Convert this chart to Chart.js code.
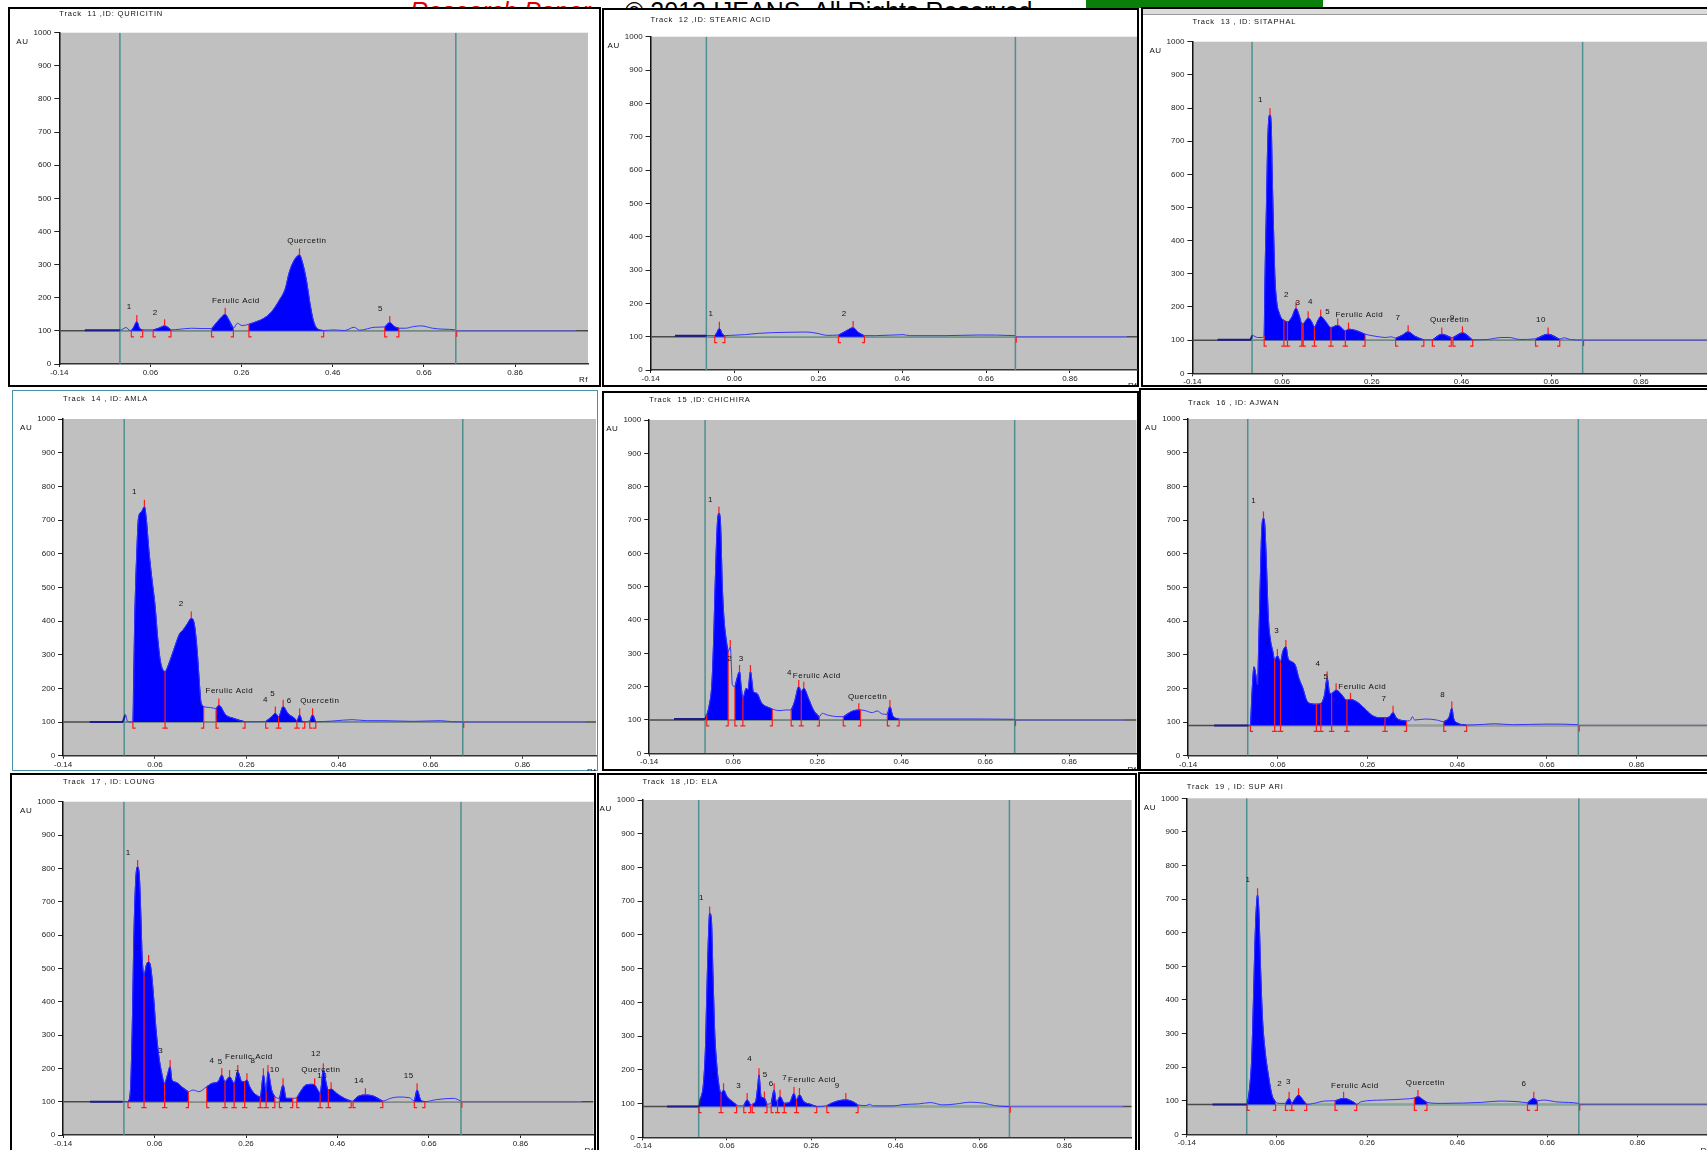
<!DOCTYPE html>
<html>
<head>
<meta charset="utf-8">
<script src="https://cdn.jsdelivr.net/npm/chart.js@4.4.1/dist/chart.umd.min.js"></script>
<style>
  html, body { margin: 0; padding: 0; background: #fff; }
  body { position: relative; width: 1707px; height: 1150px; overflow: hidden; font-family: "Liberation Sans", Arial, sans-serif; }
  .box { position: absolute; border: 2px solid #000; background: #fff; box-sizing: border-box; }
  .title { position: absolute; font-size: 7.5px; line-height: 8px; letter-spacing: 0.8px; color: #111; white-space: pre; }
  canvas { position: absolute; }
  #copy { position: absolute; left: 625px; top: -1.5px; font-size: 25px; line-height: 24px; color: #000; white-space: pre; }
  #red { position: absolute; left: 410px; top: -1.5px; font-size: 25px; line-height: 24px; color: #e00000; font-style: italic; white-space: pre; }
  #green { position: absolute; left: 1086px; top: 0; width: 237px; height: 8px; background: #0a800a; }
  #strip { position: absolute; left: 1143px; top: 9px; width: 570px; height: 5px; background: #dcdcdc; border-bottom: 1px solid #999; }
</style>
</head>
<body>
<div id="red">Research Paper</div>
<div id="copy">© 2013 IJEANS. All Rights Reserved</div>
<div id="green"></div>
<script>
// ---- axis ticks ----
const xTicks      = [-0.14, 0.06, 0.26, 0.46, 0.66, 0.86];
const xTickLabels = ['-0.14', '0.06', '0.26', '0.46', '0.66', '0.86'];
const yTicks      = [0, 100, 200, 300, 400, 500, 600, 700, 800, 900, 1000];
const sideLimits  = [-0.007, 0.730];   // application start / front lines (Rf)

// ---- tracks: [Rf, AU] scan points, integrated peak ranges, peak tops, labels ----
const titles = [
  'Track  11 ,ID: QURICITIN', 'Track  12 ,ID: STEARIC ACID', 'Track  13 , ID: SITAPHAL',
  'Track  14 , ID: AMLA', 'Track  15 ,ID: CHICHIRA', 'Track  16 , ID: AJWAN',
  'Track  17 , ID: LOUNG', 'Track  18 ,ID: ELA', 'Track  19 , ID: SUP ARI'
];
const baseAu = [100, 100, 100, 100, 100, 90, 100, 91, 89];

const trace11 = [[-0.084,102],[-0.007,102],[0.007,110],[0.015,101],[0.018,101],[0.024,113],[0.030,128],[0.036,108],[0.043,103],[0.057,103],[0.066,103],[0.078,108],[0.091,115],[0.099,110],[0.105,103],[0.125,105],[0.150,108],[0.175,107],[0.194,107],[0.204,123],[0.217,143],[0.224,150],[0.232,133],[0.242,108],[0.251,123],[0.261,116],[0.276,120],[0.293,128],[0.309,138],[0.326,158],[0.343,193],[0.356,228],[0.364,274],[0.372,304],[0.381,324],[0.387,329],[0.393,309],[0.402,254],[0.410,183],[0.417,133],[0.425,108],[0.440,101],[0.461,103],[0.486,101],[0.507,111],[0.519,102],[0.553,111],[0.574,112],[0.585,125],[0.595,113],[0.605,108],[0.620,108],[0.637,113],[0.654,115],[0.679,108],[0.704,105],[0.729,103],[0.732,100],[0.994,100]];
const peaks11 = [[0.018,0.043],[0.066,0.105],[0.194,0.242],[0.276,0.440],[0.574,0.605]];
const tops11  = [0.030,0.091,0.224,0.387,0.585];
const tags11  = ['1','2','Ferulic Acid','Quercetin','5'];
const tagPos11 = [[0.008,160],[0.065,143],[0.195,178],[0.360,359],[0.559,155]];

const trace12 = [[-0.082,103],[-0.006,103],[0.013,103],[0.018,112],[0.024,125],[0.031,108],[0.037,103],[0.051,104],[0.084,106],[0.117,110],[0.150,112],[0.183,113],[0.232,114],[0.257,110],[0.281,104],[0.308,105],[0.326,117],[0.343,127],[0.355,113],[0.370,103],[0.396,103],[0.462,106],[0.478,103],[0.560,103],[0.642,105],[0.729,103],[0.732,100],[0.996,100]];
const peaks12 = [[0.013,0.037],[0.308,0.370]];
const tops12  = [0.024,0.343];
const tags12  = ['1','2'];
const tagPos12 = [[-0.002,158],[0.316,158]];

const trace13 = [[-0.084,101],[-0.011,101],[-0.006,114],[0.005,108],[0.016,108],[0.020,112],[0.022,300],[0.025,500],[0.028,700],[0.031,775],[0.033,779],[0.036,740],[0.038,600],[0.041,430],[0.044,290],[0.048,215],[0.054,180],[0.059,165],[0.064,160],[0.072,155],[0.082,170],[0.091,196],[0.098,175],[0.104,150],[0.107,150],[0.118,167],[0.126,155],[0.132,140],[0.140,160],[0.146,172],[0.156,158],[0.169,138],[0.184,145],[0.201,128],[0.208,133],[0.227,128],[0.245,118],[0.267,112],[0.291,108],[0.304,110],[0.313,106],[0.328,115],[0.341,125],[0.356,112],[0.376,101],[0.395,101],[0.416,118],[0.437,108],[0.441,108],[0.462,122],[0.485,101],[0.517,102],[0.550,108],[0.566,108],[0.590,102],[0.625,104],[0.653,118],[0.679,103],[0.688,107],[0.703,102],[0.729,100],[1.02,100]];
const peaks13 = [[0.020,0.064],[0.064,0.072],[0.072,0.104],[0.104,0.107],[0.107,0.132],[0.132,0.169],[0.169,0.201],[0.201,0.245],[0.313,0.376],[0.395,0.437],[0.441,0.485],[0.625,0.679]];
const tops13  = [0.033,0.091,0.118,0.146,0.184,0.208,0.341,0.416,0.462,0.653];
const tags13  = ['1','2','3','4','5','Ferulic Acid','7','Quercetin','9','10'];
const tagPos13 = [[0.006,812],[0.064,224],[0.090,200],[0.118,203],[0.156,174],[0.179,163],[0.313,156],[0.390,149],[0.434,156],[0.626,149]];

const trace14 = [[-0.082,100],[-0.011,100],[-0.004,121],[0.000,103],[0.008,100],[0.012,100],[0.016,408],[0.021,626],[0.024,705],[0.031,725],[0.037,740],[0.041,705],[0.047,606],[0.054,517],[0.060,448],[0.066,349],[0.072,279],[0.082,250],[0.089,269],[0.102,319],[0.114,363],[0.121,373],[0.131,393],[0.139,408],[0.146,388],[0.152,309],[0.156,230],[0.160,160],[0.166,146],[0.181,143],[0.193,140],[0.199,150],[0.214,121],[0.231,111],[0.256,101],[0.281,101],[0.301,102],[0.314,116],[0.322,126],[0.329,116],[0.339,146],[0.349,126],[0.364,111],[0.369,104],[0.375,121],[0.381,101],[0.386,101],[0.397,103],[0.403,121],[0.410,101],[0.447,103],[0.489,107],[0.522,104],[0.556,104],[0.622,102],[0.681,104],[0.706,101],[0.730,100],[0.997,100]];
const peaks14 = [[0.012,0.082],[0.082,0.166],[0.193,0.256],[0.301,0.329],[0.329,0.369],[0.369,0.386],[0.397,0.410]];
const tops14  = [0.037,0.139,0.199,0.322,0.339,0.375,0.403];
const tags14  = ['1','2','Ferulic Acid','4','5','6','Quercetin'];
const tagPos14 = [[0.010,771],[0.112,438],[0.170,182],[0.295,155],[0.311,173],[0.347,152],[0.376,152]];

const trace15 = [[-0.081,103],[-0.007,103],[-0.003,115],[0.003,145],[0.009,205],[0.013,325],[0.017,505],[0.022,685],[0.026,720],[0.030,685],[0.034,505],[0.038,405],[0.044,335],[0.048,305],[0.053,320],[0.058,205],[0.064,200],[0.069,225],[0.075,245],[0.079,200],[0.083,165],[0.091,195],[0.095,190],[0.101,245],[0.108,185],[0.116,180],[0.128,150],[0.145,137],[0.153,133],[0.169,128],[0.186,130],[0.198,130],[0.206,155],[0.216,200],[0.222,185],[0.228,195],[0.239,165],[0.251,130],[0.265,110],[0.272,120],[0.284,115],[0.309,110],[0.322,110],[0.341,125],[0.359,130],[0.363,130],[0.374,128],[0.391,122],[0.403,127],[0.415,118],[0.427,117],[0.433,140],[0.440,112],[0.455,103],[0.522,103],[0.604,103],[0.727,102],[0.732,100],[0.993,100]];
const peaks15 = [[-0.003,0.048],[0.064,0.083],[0.083,0.153],[0.198,0.222],[0.222,0.265],[0.322,0.363],[0.427,0.455]];
const tops15  = [0.026,0.053,0.075,0.101,0.216,0.228,0.359,0.433];
const tags15  = ['1','2','3','4','Ferulic Acid','Quercetin'];
const tagPos15 = [[0.000,750],[0.046,273],[0.073,273],[0.188,229],[0.202,220],[0.333,158]];

const trace16 = [[-0.082,90],[-0.005,90],[-0.001,90],[0.003,200],[0.007,264],[0.011,240],[0.015,210],[0.017,309],[0.020,467],[0.024,665],[0.028,705],[0.031,685],[0.035,556],[0.039,408],[0.043,349],[0.049,309],[0.053,284],[0.059,297],[0.066,279],[0.071,309],[0.078,324],[0.083,289],[0.091,279],[0.099,269],[0.107,230],[0.116,200],[0.124,165],[0.132,155],[0.146,153],[0.156,155],[0.164,180],[0.170,230],[0.176,185],[0.180,185],[0.190,195],[0.200,185],[0.214,165],[0.222,167],[0.236,160],[0.253,141],[0.269,121],[0.285,113],[0.299,113],[0.309,116],[0.317,128],[0.325,111],[0.347,103],[0.356,106],[0.360,116],[0.365,106],[0.390,109],[0.414,106],[0.430,101],[0.442,115],[0.448,141],[0.452,111],[0.462,96],[0.481,91],[0.519,93],[0.543,95],[0.583,92],[0.664,94],[0.729,92],[0.732,90],[1.02,90]];
const peaks16 = [[-0.001,0.053],[0.053,0.066],[0.066,0.146],[0.146,0.156],[0.156,0.180],[0.180,0.214],[0.214,0.299],[0.299,0.347],[0.430,0.481]];
const tops16  = [0.028,0.059,0.078,0.170,0.190,0.222,0.317,0.448];
const tags16  = ['1','2','3','4','5','Ferulic Acid','7','8'];
const tagPos16 = [[0.001,745],[0.033,327],[0.052,358],[0.144,262],[0.162,222],[0.195,194],[0.291,157],[0.422,170]];

const trace17 = [[-0.081,100],[-0.010,100],[0.002,100],[0.007,130],[0.011,310],[0.015,610],[0.019,770],[0.023,805],[0.027,770],[0.030,660],[0.033,530],[0.037,480],[0.042,510],[0.047,520],[0.052,500],[0.057,430],[0.063,320],[0.069,240],[0.075,190],[0.082,155],[0.088,180],[0.094,205],[0.098,165],[0.107,158],[0.119,145],[0.134,130],[0.144,135],[0.157,130],[0.174,145],[0.186,155],[0.199,160],[0.207,180],[0.214,160],[0.224,175],[0.234,155],[0.242,190],[0.251,160],[0.257,160],[0.262,165],[0.268,145],[0.278,125],[0.291,115],[0.298,180],[0.304,130],[0.308,190],[0.316,135],[0.323,115],[0.333,110],[0.341,150],[0.348,110],[0.362,110],[0.371,112],[0.379,130],[0.391,150],[0.404,152],[0.410,150],[0.417,135],[0.422,125],[0.429,195],[0.433,170],[0.440,135],[0.446,138],[0.458,125],[0.475,110],[0.490,102],[0.494,102],[0.504,115],[0.521,120],[0.538,117],[0.559,102],[0.576,110],[0.592,114],[0.617,112],[0.628,102],[0.634,135],[0.642,105],[0.651,100],[0.676,106],[0.714,110],[0.729,102],[0.732,100],[0.994,100]];
const peaks17 = [[0.002,0.037],[0.037,0.082],[0.082,0.134],[0.174,0.214],[0.214,0.234],[0.234,0.257],[0.257,0.291],[0.291,0.304],[0.304,0.323],[0.333,0.362],[0.371,0.422],[0.422,0.440],[0.440,0.490],[0.494,0.559],[0.628,0.651]];
const tops17  = [0.023,0.047,0.094,0.207,0.224,0.242,0.262,0.298,0.308,0.341,0.410,0.429,0.446,0.521,0.634];
const tags17  = ['1','2','3','4','5','Ferulic Acid','8','7','10','12','Quercetin','13','14','15'];
const tagPos17 = [[-0.003,835],[0.019,550],[0.068,240],[0.180,212],[0.198,208],[0.214,223],[0.270,212],[0.235,175],[0.312,183],[0.402,233],[0.381,185],[0.416,167],[0.496,150],[0.605,167]];

const trace18 = [[-0.082,91],[-0.010,91],[-0.006,91],[-0.002,116],[0.004,155],[0.009,264],[0.012,412],[0.016,590],[0.019,664],[0.023,649],[0.027,481],[0.031,313],[0.036,214],[0.041,155],[0.046,130],[0.052,140],[0.060,121],[0.073,106],[0.083,96],[0.092,93],[0.100,95],[0.108,111],[0.116,96],[0.120,98],[0.128,106],[0.133,150],[0.136,185],[0.141,121],[0.149,116],[0.155,98],[0.165,102],[0.172,140],[0.177,106],[0.180,108],[0.186,121],[0.196,101],[0.209,104],[0.219,130],[0.225,111],[0.232,126],[0.242,106],[0.258,98],[0.273,91],[0.297,94],[0.308,101],[0.324,108],[0.342,111],[0.361,104],[0.371,96],[0.390,94],[0.398,98],[0.407,93],[0.456,93],[0.477,97],[0.514,99],[0.543,103],[0.572,96],[0.604,99],[0.637,104],[0.670,101],[0.695,94],[0.730,91],[1.000,91]];
const peaks18 = [[-0.006,0.046],[0.046,0.083],[0.100,0.116],[0.120,0.155],[0.165,0.180],[0.180,0.196],[0.196,0.225],[0.225,0.273],[0.297,0.371]];
const tops18  = [0.019,0.052,0.108,0.136,0.149,0.172,0.186,0.219,0.232,0.342];
const tags18  = ['1','2','3','4','5','6','7','Ferulic Acid','9'];
const tagPos18 = [[-0.006,699],[0.024,170],[0.082,140],[0.108,221],[0.145,172],[0.159,148],[0.191,165],[0.205,160],[0.316,142]];

const trace19 = [[-0.083,89],[-0.012,89],[-0.006,89],[0.000,147],[0.004,226],[0.008,405],[0.012,603],[0.017,712],[0.020,663],[0.024,484],[0.028,345],[0.034,246],[0.041,177],[0.049,117],[0.057,97],[0.067,92],[0.079,92],[0.087,107],[0.093,93],[0.101,107],[0.108,117],[0.118,102],[0.126,89],[0.142,92],[0.166,99],[0.189,100],[0.208,107],[0.231,95],[0.237,89],[0.247,97],[0.296,102],[0.344,105],[0.365,108],[0.373,112],[0.385,102],[0.393,95],[0.425,92],[0.474,93],[0.514,95],[0.555,99],[0.595,97],[0.616,94],[0.630,107],[0.638,100],[0.652,102],[0.684,96],[0.730,92],[0.733,90],[1.02,90]];
const peaks19 = [[-0.006,0.057],[0.079,0.093],[0.093,0.126],[0.189,0.237],[0.365,0.393],[0.616,0.638]];
const tops19  = [0.017,0.087,0.108,0.208,0.373,0.630];
const tags19  = ['1','2','3','Ferulic Acid','Quercetin','6'];
const tagPos19 = [[-0.010,747],[0.061,137],[0.080,145],[0.180,132],[0.346,142],[0.603,137]];

const traces  = [trace11, trace12, trace13, trace14, trace15, trace16, trace17, trace18, trace19];
const peakSet = [peaks11, peaks12, peaks13, peaks14, peaks15, peaks16, peaks17, peaks18, peaks19];
const topSet  = [tops11, tops12, tops13, tops14, tops15, tops16, tops17, tops18, tops19];
const tagSet  = [tags11, tags12, tags13, tags14, tags15, tags16, tags17, tags18, tags19];
const tagPosSet = [tagPos11, tagPos12, tagPos13, tagPos14, tagPos15, tagPos16, tagPos17, tagPos18, tagPos19];

// ---- page layout: panel box [x,y,w,h] and plot rect [L,T,R,B] in page px ----
const LAYOUT = [
  { box: [8, 7, 593, 380],     plot: [59.3, 32.7, 588, 364] },
  { box: [602, 8, 537, 379],   plot: [650.6, 36.7, 1137, 370] },
  { box: [1141, 7, 580, 380],  plot: [1192.4, 41.7, 1712.7, 373.3] },
  { box: [12, 390, 586, 381],  plot: [63.1, 419, 596, 755.7], border: '1.5px solid #4b93a8' },
  { box: [602, 391, 537, 380], plot: [649.2, 420, 1136.5, 753.3] },
  { box: [1139, 388, 580, 383], plot: [1188.1, 419, 1708.4, 755.7] },
  { box: [10, 773, 586, 400],  plot: [63.1, 801.7, 593.6, 1135] },
  { box: [597, 773, 540, 400], plot: [642.6, 800, 1131.7, 1137.3] },
  { box: [1138, 772, 580, 400], plot: [1186.8, 798.3, 1709.5, 1134.3] }
];
const Y_AXIS_W = 30, X_AXIS_H = 12;
const FONT = '"Liberation Sans", Arial, sans-serif';
const tickFont = { family: FONT, size: 8 };

const auAt = (trace, rf) => trace.reduce((b, p) => Math.abs(p[0] - rf) < Math.abs(b[0] - rf) ? p : b)[1];

// ---- plugins ----
const plotBg = {
  id: 'plotBg',
  beforeDraw(chart) {
    const { ctx, chartArea: a } = chart;
    ctx.save();
    ctx.fillStyle = '#c0c0c0';
    ctx.fillRect(a.left, a.top, a.right - a.left, a.bottom - a.top);
    ctx.restore();
  }
};
const peakTags = {
  id: 'peakTags',
  afterDatasetsDraw(chart, args, opts) {
    const { ctx, chartArea: a, scales: { x, y } } = chart;
    ctx.save();
    ctx.font = `8px ${FONT}`;
    ctx.letterSpacing = '0.5px';
    ctx.fillStyle = '#111';
    ctx.textAlign = 'left';
    ctx.textBaseline = 'bottom';
    opts.tags.forEach((t, i) => {
      ctx.fillText(t, x.getPixelForValue(opts.pos[i][0]), y.getPixelForValue(opts.pos[i][1]));
    });
    ctx.textBaseline = 'top';
    ctx.fillText('AU', a.left - 43, a.top + 5);
    ctx.textAlign = 'right';
    ctx.fillText('Rf', a.right, a.bottom + 12);
    ctx.restore();
  }
};

function buildDatasets(trace, peaks, tops, base) {
  const pts = trace.map(([x, y]) => ({ x, y }));
  const gap = { x: 0, y: null };
  const sets = [];

  // baseline across the plate + integration baseline between the limits
  sets.push({ data: [{ x: -0.14, y: base }, { x: 1.02, y: base }], borderColor: '#4a4a4a', borderWidth: 1.5, order: 9 });
  sets.push({ data: [{ x: sideLimits[0], y: base }, { x: sideLimits[1], y: base }], borderColor: '#8fb3a3', borderWidth: 1, order: 8 });
  sideLimits.forEach(v => sets.push({ data: [{ x: v, y: 0 }, { x: v, y: 1000 }], borderColor: '#4f8f8f', borderWidth: 1.5, order: 7 }));

  // merge touching peak ranges into filled runs
  const runs = [];
  peaks.forEach(([a, b]) => {
    const last = runs[runs.length - 1];
    if (last && Math.abs(last[1] - a) < 1e-6) last[1] = b; else runs.push([a, b]);
  });
  runs.forEach(([a, b]) => sets.push({
    data: pts.filter(p => p.x >= a - 1e-6 && p.x <= b + 1e-6),
    borderColor: '#0000ff', backgroundColor: '#0000ff', borderWidth: 1,
    fill: { value: base }, cubicInterpolationMode: 'monotone', order: 5
  }));

  // scan trace
  sets.push({
    data: pts, borderColor: '#3535ff', borderWidth: 1, cubicInterpolationMode: 'monotone', order: 4,
    segment: {
      borderColor: c => c.p1.parsed.x <= sideLimits[0] + 0.005 ? '#1d1d8a' : (c.p0.parsed.x >= sideLimits[1] - 0.002 ? '#6b6bf0' : undefined),
      borderWidth: c => c.p1.parsed.x <= sideLimits[0] + 0.005 ? 2 : undefined
    }
  });

  // red integration marks: brackets / drop lines, peak-top ticks, front mark
  const red = [];
  peaks.forEach(([a, b]) => {
    [[a, 1], [b, -1]].forEach(([rf, dir]) => {
      red.push({ x: rf + dir * 0.006, y: base - 18 }, { x: rf, y: base - 18 }, { x: rf, y: auAt(trace, rf) }, gap);
    });
  });
  tops.forEach(rf => {
    const v = auAt(trace, rf);
    red.push({ x: rf, y: v }, { x: rf, y: v + 20 }, gap);
  });
  red.push({ x: sideLimits[1] + 0.002, y: base }, { x: sideLimits[1] + 0.002, y: base - 18 }, gap);
  sets.push({ data: red, borderColor: '#ff1a1a', borderWidth: 1.2, order: 1 });

  return sets;
}

// ---- build the 9 panels ----
LAYOUT.forEach((lay, i) => {
  const [bx, by, bw, bh] = lay.box;
  const [L, T, R, B] = lay.plot;

  const box = document.createElement('div');
  box.className = 'box';
  Object.assign(box.style, { left: bx + 'px', top: by + 'px', width: bw + 'px', height: bh + 'px' });
  if (lay.border) box.style.border = lay.border;
  document.body.appendChild(box);

  if (i === 2) {
    const strip = document.createElement('div');
    strip.id = 'strip';
    document.body.appendChild(strip);
  }

  const cv = document.createElement('canvas');
  cv.width = bw;
  cv.height = bh;
  cv.style.left = bx + 'px';
  cv.style.top = by + 'px';
  document.body.appendChild(cv);

  const title = document.createElement('div');
  title.className = 'title';
  title.textContent = titles[i];
  title.style.left = L + 'px';
  title.style.top = (by + (i % 3 === 2 ? 11 : 5) + (i === 0 ? -2 : 0) + (i === 1 ? 3 : 0)) + 'px';
  document.body.appendChild(title);

  new Chart(cv, {
    type: 'line',
    data: { datasets: buildDatasets(traces[i], peakSet[i], topSet[i], baseAu[i]) },
    options: {
      responsive: false,
      devicePixelRatio: 1,
      animation: false,
      events: [],
      layout: { padding: { left: L - bx - Y_AXIS_W, top: T - by, right: bx + bw - R, bottom: by + bh - B - X_AXIS_H } },
      elements: { point: { radius: 0 }, line: { tension: 0 } },
      scales: {
        x: {
          type: 'linear', min: -0.14, max: 1.02,
          afterBuildTicks: s => { s.ticks = xTicks.map(value => ({ value })); },
          afterFit: s => { s.height = X_AXIS_H; },
          ticks: { callback: (v, k) => xTickLabels[k], font: tickFont, color: '#222', padding: 1, maxRotation: 0, autoSkip: false },
          grid: { drawOnChartArea: false, tickLength: 3, color: '#222' },
          border: { color: '#333', width: 1.5 }
        },
        y: {
          type: 'linear', min: 0, max: 1000,
          afterBuildTicks: s => { s.ticks = yTicks.map(value => ({ value })); },
          afterFit: s => { s.width = Y_AXIS_W; },
          ticks: { callback: v => String(v), font: tickFont, color: '#222', padding: 3, autoSkip: false },
          grid: { drawOnChartArea: false, tickLength: 5, color: '#222' },
          border: { color: '#111', width: 1.5 }
        }
      },
      plugins: {
        legend: { display: false },
        tooltip: { enabled: false },
        peakTags: { tags: tagSet[i], pos: tagPosSet[i] }
      }
    },
    plugins: [plotBg, peakTags]
  });
});
</script>
</body>
</html>
